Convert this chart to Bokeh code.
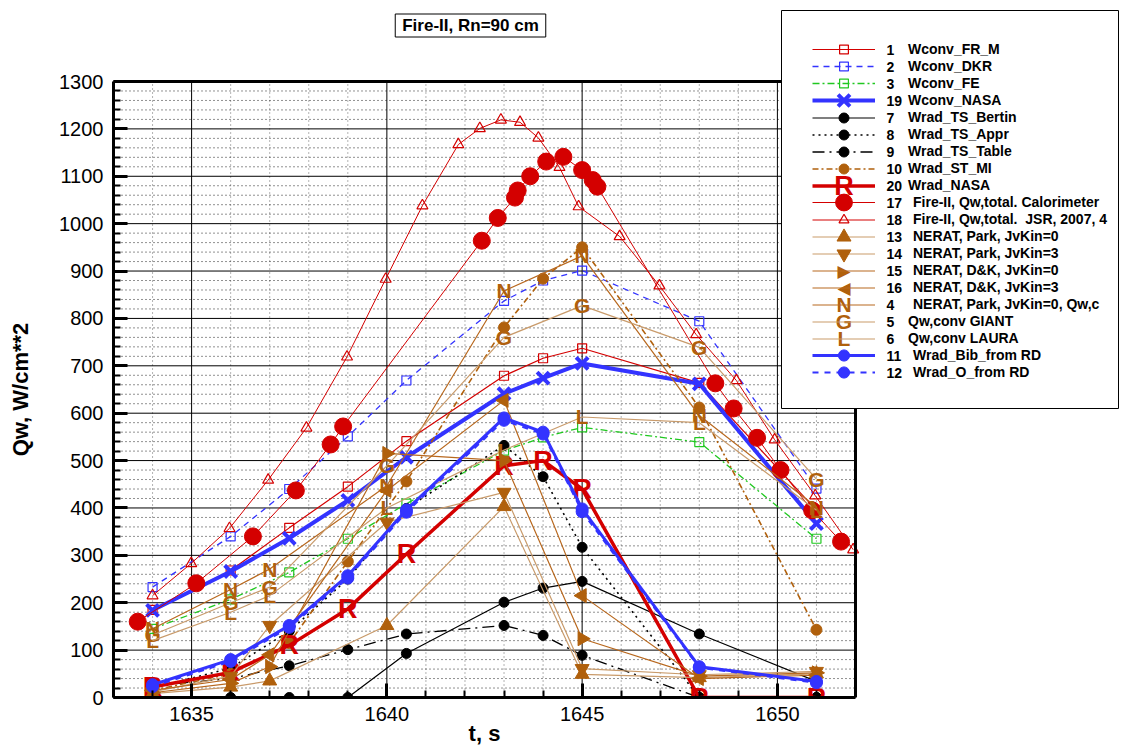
import math
from bokeh.plotting import figure
from bokeh.models import (ColumnDataSource, FixedTicker, Legend, LegendItem, Label,
                          BoxAnnotation, Range1d, LinearAxis)
from bokeh.core.properties import value
from bokeh.embed import file_html
from bokeh.resources import INLINE

FONT = "Liberation Sans"

# ---------------- data ----------------
t_model = [1634, 1636, 1637.5, 1639, 1640.5, 1643, 1644, 1645, 1648, 1651]
wconv_fr_m = [185, 268, 358, 445, 541, 679, 716, 737, 664, 395]
wconv_dkr = [233, 340, 440, 551, 669, 837, 880, 901, 794, 441]
wconv_fe = [145, 207, 264, 335, 409, 521, 549, 570, 539, 335]
wconv_nasa = [184, 266, 336, 416, 507, 641, 674, 705, 662, 367]
wrad_ts_bertin = [0, 0, 0, 0, 93, 201, 231, 245, 134, 34]
wrad_ts_appr = [20, 62, 140, 250, 399, 532, 466, 317, 0, 0]
wrad_ts_table = [25, 40, 67, 101, 134, 152, 131, 89, 0, 0]
wrad_st_mi = [15, 50, 115, 287, 456, 781, 884, 950, 612, 143]
wrad_nasa = [22, 53, 110, 187, 303, 489, 500, 440, 0, 0]
wrad_bib_rd = [27, 80, 152, 257, 396, 590, 560, 398, 65, 34]
wrad_o_rd = [23, 76, 148, 252, 391, 585, 556, 392, 63, 31]

t_calor = [1633.62, 1635.12, 1636.57, 1637.67, 1638.56, 1638.88, 1642.43, 1642.84,
           1643.28, 1643.35, 1643.67, 1644.08, 1644.52, 1645.0, 1645.27, 1645.39,
           1648.41, 1648.88, 1649.48, 1650.08, 1650.89, 1651.63]
q_calor = [160, 241, 340, 437, 534, 572, 964, 1012, 1055, 1070, 1100, 1131, 1141,
           1113, 1092, 1078, 663, 610, 548, 480, 395, 329]

t_jsr = [1634.0, 1634.99, 1635.97, 1636.96, 1637.94, 1638.98, 1639.97, 1640.91,
         1641.83, 1642.38, 1642.92, 1643.41, 1643.88, 1644.42, 1644.91, 1645.96,
         1646.98, 1647.92, 1648.95, 1649.93, 1650.97, 1651.94]
q_jsr = [215, 283, 357, 459, 569, 719, 883, 1038, 1167, 1201, 1219, 1214, 1181,
         1119, 1036, 973, 869, 766, 669, 544, 426, 312]

t_nerat = [1634, 1636, 1637, 1640, 1643, 1645, 1648, 1651]
nerat_park_jv0 = [8, 22, 35, 152, 403, 49, 42, 50]
nerat_park_jv3 = [12, 45, 152, 370, 433, 61, 48, 55]
nerat_dk_jv0 = [10, 30, 65, 515, 500, 124, 45, 52]
nerat_dk_jv3 = [15, 38, 90, 437, 627, 215, 40, 47]
nerat_park_qwc = [145, 228, 271, 447, 858, 932, 595, 402]
qwconv_giant = [132, 200, 233, 489, 760, 827, 739, 461]
qwconv_laura = [120, 180, 215, 400, 522, 592, 580, 395]

x_lim = (1633, 1652)
y_lim = (0, 1300)
x_major = [1635, 1640, 1645, 1650]
x_minor = list(range(1633, 1653))
y_major = list(range(0, 1301, 100))
y_minor = list(range(0, 1301, 20))
x_title = "t, s"
y_title = "Qw, W/cm**2"
chart_title = "Fire-II, Rn=90 cm"

RED = "#d40000"
BLUE = "#3333ff"
GREEN = "#20c820"
BLACK = "#000000"
BROWN = "#b0600c"
TAN = "#c99b6b"
BROWN_LINE = "#b8681e"

# ---------------- figure ----------------
# The frame is extended to the right and to the top so that the legend box and
# the title box (which overlap / sit outside the data area) are not clipped.
# Axes are bounded to the data area, which keeps the same scale as the reference.
W, H = 1121, 749
BORDER_L, BORDER_B, BORDER_T = 113, 52, 5
PX_PER_S = 742 / 19.0
PX_PER_Q = 616 / 1300.0
frame_w = W - BORDER_L
frame_h = H - BORDER_B - BORDER_T
x_end = x_lim[0] + frame_w / PX_PER_S
y_end = y_lim[0] + frame_h / PX_PER_Q

p = figure(width=W, height=H, output_backend="svg", toolbar_location=None,
           x_range=Range1d(x_lim[0], x_end), y_range=Range1d(y_lim[0], y_end),
           min_border_left=BORDER_L, min_border_right=0, min_border_top=BORDER_T,
           min_border_bottom=BORDER_B, background_fill_color="white")
p.outline_line_color = None
p.xgrid.visible = False
p.ygrid.visible = False

p.xaxis.ticker = FixedTicker(ticks=x_major, minor_ticks=x_minor)
p.yaxis.ticker = FixedTicker(ticks=y_major, minor_ticks=y_minor)
p.xaxis.bounds = x_lim
p.yaxis.bounds = y_lim

p.axis.axis_line_width = 3
p.axis.major_tick_line_width = 3
p.axis.minor_tick_line_width = 2
p.axis.major_tick_in = 14
p.axis.major_tick_out = 0
p.axis.minor_tick_in = 7
p.axis.minor_tick_out = 0
p.axis.major_label_text_font = FONT
p.axis.major_label_text_font_size = "20px"
p.axis.major_label_text_color = "black"
p.yaxis.major_label_standoff = 10
p.xaxis.major_label_standoff = 9

# axis titles centred on the data area (not on the extended frame):
# drawn as the single tick label of an extra, line-less axis
x_mid = (x_lim[0] + x_lim[1]) / 2
y_mid = (y_lim[0] + y_lim[1]) / 2
xt = LinearAxis(ticker=FixedTicker(ticks=[x_mid], minor_ticks=[]),
                major_label_overrides={x_mid: x_title},
                axis_line_color=None, major_tick_line_color=None, minor_tick_line_color=None,
                major_label_text_font=FONT, major_label_text_font_style="bold",
                major_label_text_font_size="22px", major_label_text_color="black",
                major_label_standoff=-9)
p.add_layout(xt, "below")
yt = LinearAxis(ticker=FixedTicker(ticks=[y_mid], minor_ticks=[]),
                major_label_overrides={y_mid: y_title},
                major_label_orientation="parallel",
                axis_line_color=None, major_tick_line_color=None, minor_tick_line_color=None,
                major_label_text_font=FONT, major_label_text_font_style="bold",
                major_label_text_font_size="22px", major_label_text_color="black",
                major_label_standoff=18)
p.add_layout(yt, "left")

# grid restricted to the data area
gx_minor = [v for v in x_minor if v not in x_major]
gy_minor = [v for v in y_minor if v not in y_major]
p.segment(x0=gx_minor, y0=[y_lim[0]] * len(gx_minor), x1=gx_minor, y1=[y_lim[1]] * len(gx_minor),
          line_color="#666666", line_width=1, line_dash="1 3", level="underlay")
p.segment(x0=[x_lim[0]] * len(gy_minor), y0=gy_minor, x1=[x_lim[1]] * len(gy_minor), y1=gy_minor,
          line_color="#222222", line_width=1, line_dash="1 3", level="underlay")
p.segment(x0=x_major, y0=[y_lim[0]] * len(x_major), x1=x_major, y1=[y_lim[1]] * len(x_major),
          line_color="black", line_width=1, level="underlay")
p.segment(x0=[x_lim[0]] * len(y_major), y0=y_major, x1=[x_lim[1]] * len(y_major), y1=y_major,
          line_color="black", line_width=1, level="underlay")


def series(x, y, color, width, dash="solid", marker=None, size=None,
           mcolor=None, fill=None, angle=0.0, mline=1.0):
    src = ColumnDataSource(dict(x=x, y=y))
    lr = p.line("x", "y", source=src, line_color=color, line_width=width, line_dash=dash)
    mr = None
    if marker is not None:
        mr = p.scatter("x", "y", source=src, marker=marker, size=size,
                       line_color=mcolor or color, fill_color=fill,
                       line_width=mline, angle=angle)
    return lr, mr


def text_marks(x, y, letter, color, fsize):
    src = ColumnDataSource(dict(x=x, y=y, t=[letter] * len(x)))
    p.text("x", "y", text="t", source=src, text_color=color,
           text_font=value(FONT), text_font_style="bold", text_font_size=fsize,
           text_align="center", text_baseline="middle")


# drawing order follows the legend order
s1 = series(t_model, wconv_fr_m, RED, 1.2, "solid", "square", 9, fill=None, mline=1.2)
s2 = series(t_model, wconv_dkr, BLUE, 1.3, "6 5", "square", 9, fill=None, mline=1.2)
s3 = series(t_model, wconv_fe, GREEN, 1.3, "7 3 2 3", "square", 9, fill=None, mline=1.2)
s19 = series(t_model, wconv_nasa, BLUE, 4, "solid", "x", 17, mline=4)
s7 = series(t_model, wrad_ts_bertin, BLACK, 1.2, "solid", "circle", 10, fill=BLACK)
s8 = series(t_model, wrad_ts_appr, BLACK, 1.6, "2 4", "circle", 10, fill=BLACK)
s9 = series(t_model, wrad_ts_table, BLACK, 1.3, "12 5 2 5", "circle", 10, fill=BLACK)
s10 = series(t_model, wrad_st_mi, BROWN, 1.6, "6 3 2 3", "circle", 11, fill=BROWN)
s20 = series(t_model, wrad_nasa, RED, 3.5, "solid")
text_marks(t_model, wrad_nasa, "R", RED, "27px")
s17 = series(t_calor, q_calor, RED, 1.0, "solid", "circle", 17, fill=RED)
s18 = series(t_jsr, q_jsr, RED, 1.0, "solid", "triangle", 11, fill=None, mline=1.2)
s13 = series(t_nerat, nerat_park_jv0, TAN, 1.2, "solid", "triangle", 14, mcolor=BROWN, fill=BROWN)
s14 = series(t_nerat, nerat_park_jv3, TAN, 1.2, "solid", "inverted_triangle", 14, mcolor=BROWN, fill=BROWN)
s15 = series(t_nerat, nerat_dk_jv0, BROWN_LINE, 1.2, "solid", "triangle", 14, mcolor=BROWN, fill=BROWN, angle=-math.pi / 2)
s16 = series(t_nerat, nerat_dk_jv3, BROWN_LINE, 1.2, "solid", "triangle", 14, mcolor=BROWN, fill=BROWN, angle=math.pi / 2)
s4 = series(t_nerat, nerat_park_qwc, BROWN_LINE, 1.2, "solid")
text_marks(t_nerat, nerat_park_qwc, "N", BROWN, "21px")
s5 = series(t_nerat, qwconv_giant, TAN, 1.2, "solid")
text_marks(t_nerat, qwconv_giant, "G", BROWN, "21px")
s6 = series(t_nerat, qwconv_laura, TAN, 1.2, "solid")
text_marks(t_nerat, qwconv_laura, "L", BROWN, "21px")
s11 = series(t_model, wrad_bib_rd, BLUE, 3, "solid", "circle", 12, fill=BLUE)
s12 = series(t_model, wrad_o_rd, BLUE, 2, "6 6", "circle", 12, fill=BLUE)

# thick frame border on top and right of the data area
p.line(x=[x_lim[0], x_lim[1], x_lim[1]], y=[y_lim[1], y_lim[1], y_lim[0]],
       line_color="black", line_width=3)

# ---------------- legend box (screen px from frame bottom-left) ----------------
box = BoxAnnotation(left=668, right=1005, top=687, bottom=289,
                    left_units="screen", right_units="screen",
                    top_units="screen", bottom_units="screen",
                    fill_color="white", fill_alpha=1.0,
                    line_color="black", line_width=1, line_alpha=1.0)
p.add_layout(box)

# (number, name, standoff, series, marker px, use scatter in legend,
#  text marker, text font, text color, text size)
entries = [
    ("1", "Wconv_FR_M", 33, s1, 9, True, None, None, None, None),
    ("2", "Wconv_DKR", 33, s2, 9, True, None, None, None, None),
    ("3", "Wconv_FE", 33, s3, 9, True, None, None, None, None),
    ("19", "Wconv_NASA", 33, s19, 17, True, None, None, None, None),
    ("7", "Wrad_TS_Bertin", 33, s7, 10, True, None, None, None, None),
    ("8", "Wrad_TS_Appr", 33, s8, 10, True, None, None, None, None),
    ("9", "Wrad_TS_Table", 33, s9, 10, True, None, None, None, None),
    ("10", "Wrad_ST_MI", 33, s10, 10, True, None, None, None, None),
    ("20", "Wrad_NASA", 33, s20, None, False, "R", FONT, RED, "27px"),
    ("17", "Fire-II, Qw,total. Calorimeter", 38, s17, 17, True, None, None, None, None),
    ("18", "Fire-II, Qw,total.  JSR, 2007, 4", 38, s18, 10, True, None, None, None, None),
    ("13", "NERAT, Park, JvKin=0", 38, s13, 14, True, None, None, None, None),
    ("14", "NERAT, Park, JvKin=3", 38, s14, 14, True, None, None, None, None),
    ("15", "NERAT, D&K, JvKin=0", 38, s15, None, False, "\u25B6", "DejaVu Sans", BROWN, "17px"),
    ("16", "NERAT, D&K, JvKin=3", 38, s16, None, False, "\u25C0", "DejaVu Sans", BROWN, "17px"),
    ("4", "NERAT, Park, JvKin=0, Qw,c", 38, s4, None, False, "N", FONT, BROWN, "21px"),
    ("5", "Qw,conv GIANT", 33, s5, None, False, "G", FONT, BROWN, "21px"),
    ("6", "Qw,conv LAURA", 33, s6, None, False, "L", FONT, BROWN, "21px"),
    ("11", "Wrad_Bib_from RD", 38, s11, 11, True, None, None, None, None),
    ("12", "Wrad_O_from RD", 38, s12, 11, True, None, None, None, None),
]

LEG_X = 699        # start of line samples, px right of frame left
LEG_CY0 = 648      # centre of first entry, px above frame bottom
LEG_DY = 17
GLYPH_W = 63

for i, (num, name, std, (lr, mr), msize, use_m, tmark, tfont, tcol, tsize) in enumerate(entries):
    cy = LEG_CY0 - LEG_DY * i
    gh = int(round(max(17, msize / 0.4))) if (msize and use_m) else 17
    rends = [lr] + ([mr] if (use_m and mr is not None) else [])
    leg = Legend(items=[LegendItem(label=value(name), renderers=rends)],
                 location=(LEG_X, cy - gh / 2), glyph_width=GLYPH_W,
                 glyph_height=gh, label_height=gh, label_standoff=std,
                 padding=0, spacing=0, margin=0,
                 border_line_alpha=0, background_fill_alpha=0,
                 label_text_font=FONT, label_text_font_style="bold",
                 label_text_font_size="14px", label_text_color="black")
    p.add_layout(leg)
    p.add_layout(Label(x=LEG_X + 74, y=cy, x_units="screen", y_units="screen",
                       text=num, text_font=FONT, text_font_style="bold",
                       text_font_size="14px", text_align="left",
                       text_baseline="middle", text_color="black"))
    if tmark:
        p.add_layout(Label(x=LEG_X + GLYPH_W / 2, y=cy, x_units="screen", y_units="screen",
                           text=tmark, text_font=tfont, text_font_style="bold",
                           text_font_size=tsize, text_align="center",
                           text_baseline="middle", text_color=tcol))

# title box
p.add_layout(Label(x=357, y=672, x_units="screen", y_units="screen",
                   text=chart_title, text_font=FONT, text_font_style="bold",
                   text_font_size="17px", text_align="center", text_baseline="middle",
                   text_color="black", border_line_color="black", border_line_width=1,
                   background_fill_color="white", padding=(7, 7, 2, 2)))

open("out.html", "w").write(file_html(p, INLINE))
